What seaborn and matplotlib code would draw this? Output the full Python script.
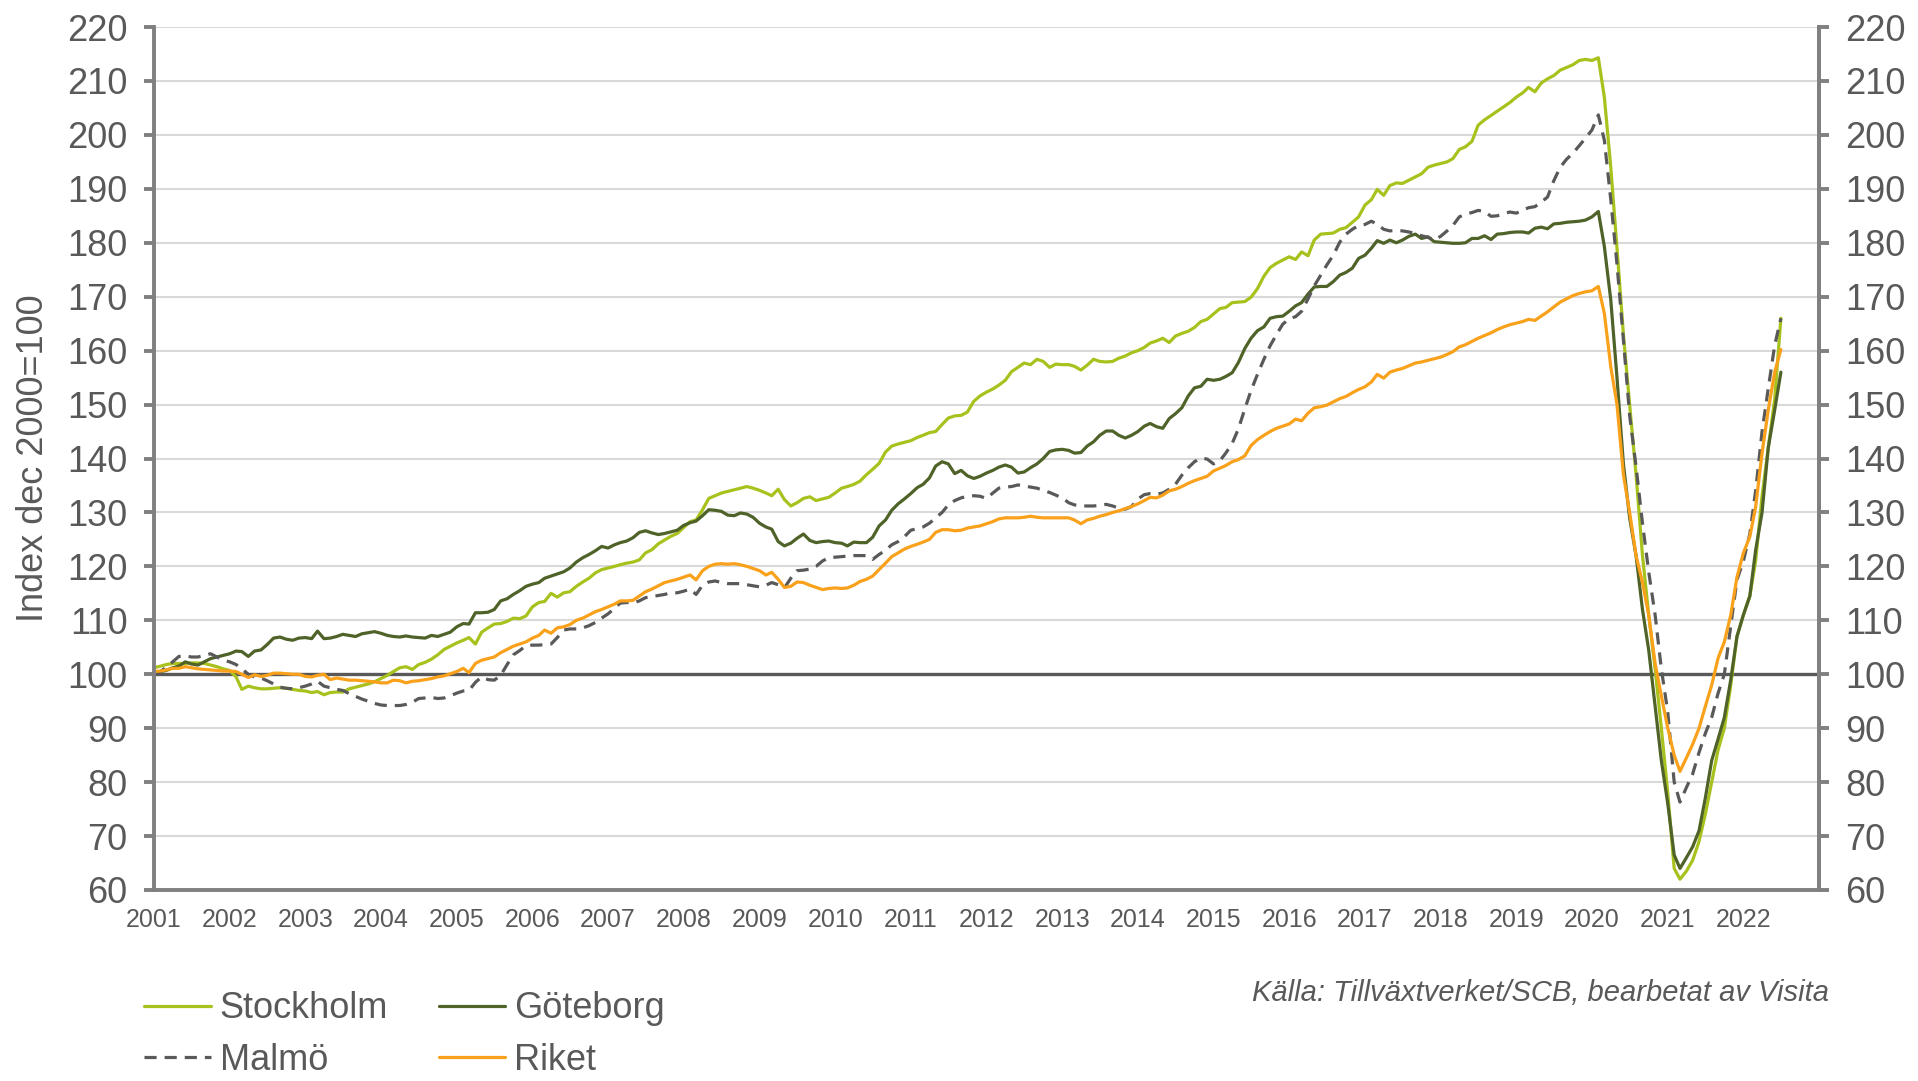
import matplotlib
matplotlib.use("Agg")
import matplotlib.pyplot as plt
import matplotlib.dates as mdates
import pandas as pd
import seaborn as sns

sns.set_style("white")
plt.rcParams['font.family'] = ['Liberation Sans', 'DejaVu Sans']

# monthly values, Jan 2001 - Jul 2022 (index dec 2000 = 100)
months = pd.date_range("2001-01-01", periods=259, freq="MS")

stockholm = [
    101.2, 101.5, 101.8, 102.0, 102.0, 102.0, 102.1, 102.1, 102.0, 101.7, 101.4, 101.0,  # 2001
    100.7, 99.5, 97.2, 97.8, 97.5, 97.3, 97.3, 97.4, 97.5, 97.4, 97.2, 97.0,  # 2002
    96.9, 96.6, 96.8, 96.2, 96.6, 96.7, 96.7, 97.3, 97.6, 97.9, 98.2, 98.6,  # 2003
    99.2, 99.8, 100.5, 101.2, 101.4, 100.9, 101.8, 102.2, 102.8, 103.6, 104.6, 105.2,  # 2004
    105.8, 106.3, 106.8, 105.6, 107.8, 108.6, 109.3, 109.4, 109.8, 110.4, 110.3, 110.8,  # 2005
    112.5, 113.3, 113.5, 115.0, 114.3, 115.1, 115.3, 116.3, 117.1, 117.8, 118.8, 119.4,  # 2006
    119.7, 120.0, 120.3, 120.6, 120.8, 121.2, 122.5, 123.1, 124.2, 124.9, 125.6, 126.1,  # 2007
    127.2, 128.3, 128.6, 130.5, 132.6, 133.1, 133.6, 133.9, 134.2, 134.5, 134.8, 134.5,  # 2008
    134.1, 133.6, 133.1, 134.3, 132.4, 131.2, 131.8, 132.6, 132.9, 132.2, 132.5, 132.8,  # 2009
    133.6, 134.5, 134.8, 135.2, 135.8, 137.0, 138.0, 139.1, 141.2, 142.3, 142.7, 143.0,  # 2010
    143.3, 143.9, 144.3, 144.8, 145.0, 146.3, 147.5, 147.9, 148.0, 148.6, 150.6, 151.6,  # 2011
    152.3, 152.9, 153.6, 154.5, 156.1, 156.9, 157.7, 157.4, 158.4, 158.0, 156.9, 157.5,  # 2012
    157.4, 157.4, 157.1, 156.4, 157.3, 158.4, 158.0, 157.9, 158.0, 158.6, 159.0, 159.6,  # 2013
    160.0, 160.6, 161.4, 161.8, 162.3, 161.5, 162.7, 163.2, 163.6, 164.3, 165.4, 165.8,  # 2014
    166.8, 167.8, 168.0, 168.9, 169.0, 169.1, 169.9, 171.5, 173.8, 175.4, 176.2, 176.8,  # 2015
    177.4, 176.9, 178.3, 177.6, 180.5, 181.6, 181.7, 181.8, 182.5, 182.8, 183.8, 184.8,  # 2016
    187.0, 188.0, 189.9, 188.8, 190.6, 191.1, 191.0, 191.6, 192.2, 192.8, 194.0, 194.4,  # 2017
    194.7, 195.0, 195.6, 197.3, 197.8, 198.8, 201.8, 202.8, 203.6, 204.4, 205.2, 206.0,  # 2018
    207.0, 207.8, 208.8, 208.0, 209.6, 210.4, 211.0, 212.0, 212.5, 213.0, 213.8, 214.0,  # 2019
    213.8, 214.3, 207.0, 194.0, 179.0, 163.0, 150.0, 137.0, 122.0, 111.0, 101.0, 90.0,  # 2020
    78.0, 64.0, 62.0, 63.5, 65.5, 69.0, 74.0, 80.0, 86.0, 90.0, 98.0, 107.0,  # 2021
    111.0, 114.5, 121.0, 133.0, 142.0, 151.0, 166.0,  # 2022
]

goteborg = [
    100.4, 100.5, 100.7, 101.2, 101.5, 102.3, 101.9, 101.7, 102.3, 102.9, 103.2, 103.5,
    103.8, 104.3, 104.2, 103.3, 104.3, 104.5, 105.5, 106.7, 106.9, 106.5, 106.3, 106.7,
    106.8, 106.6, 108.0, 106.6, 106.7, 107.0, 107.4, 107.2, 107.0, 107.5, 107.7, 107.9,
    107.6, 107.2, 107.0, 106.9, 107.1, 106.9, 106.8, 106.7, 107.2, 107.0, 107.4, 107.8,
    108.8, 109.4, 109.3, 111.4, 111.4, 111.5, 112.0, 113.6, 114.0, 114.8, 115.5, 116.3,
    116.7, 117.0, 117.8, 118.2, 118.6, 119.0, 119.7, 120.8, 121.6, 122.2, 122.9, 123.7,
    123.4, 124.0, 124.4, 124.7, 125.3, 126.3, 126.6, 126.2, 125.9, 126.1, 126.4, 126.7,
    127.6, 128.1, 128.4, 129.4, 130.5, 130.4, 130.2, 129.5, 129.4, 129.9, 129.7, 129.1,
    128.0, 127.3, 126.9, 124.6, 123.8, 124.3, 125.2, 126.0, 124.8, 124.4, 124.6, 124.7,
    124.4, 124.3, 123.8, 124.5, 124.4, 124.4, 125.4, 127.5, 128.6, 130.4, 131.6, 132.5,
    133.5, 134.6, 135.2, 136.4, 138.6, 139.4, 139.0, 137.2, 137.8, 136.8, 136.3, 136.7,
    137.3, 137.8, 138.4, 138.8, 138.4, 137.3, 137.5, 138.3, 139.0, 140.0, 141.3, 141.6,
    141.7, 141.5, 141.0, 141.1, 142.3, 143.1, 144.3, 145.1, 145.1, 144.3, 143.8, 144.3,
    145.0, 146.0, 146.5, 145.9, 145.6, 147.4, 148.3, 149.4, 151.6, 153.1, 153.4, 154.7,
    154.5, 154.7, 155.2, 155.9, 157.8, 160.4, 162.3, 163.7, 164.4, 166.0, 166.3, 166.4,
    167.3, 168.3, 168.9, 170.5, 171.8, 171.9, 171.9, 172.8, 174.0, 174.5, 175.3, 177.1,
    177.7, 179.0, 180.4, 179.9, 180.5, 180.0, 180.5, 181.2, 181.6, 180.8, 181.1, 180.2,
    180.1, 180.0, 179.9, 179.9, 180.0, 180.8, 180.8, 181.3, 180.6, 181.6, 181.7, 181.9,
    182.0, 182.0, 181.8, 182.7, 182.9, 182.6, 183.5, 183.6, 183.8, 183.9, 184.0, 184.2,
    184.8, 185.8, 179.3, 169.4, 155.0, 139.0, 129.0, 122.0, 112.0, 104.5, 94.0, 84.0,
    76.0, 66.5, 64.0, 66.0, 68.0, 71.0, 77.0, 84.0, 88.0, 92.0, 99.0, 107.0,
    111.0, 114.5, 123.0, 130.0, 142.0, 149.0, 156.0,
]

malmo = [
    100.2, 100.5, 101.3, 102.3, 103.3, 103.4, 103.2, 103.2, 103.5, 103.8, 103.2, 102.6,
    102.3, 101.8, 101.0, 100.0, 99.5, 99.3, 98.8, 98.2, 97.6, 97.4, 97.3, 97.5,
    97.8, 98.2, 98.7, 97.8, 97.5, 97.2, 97.0, 96.4, 95.9, 95.4, 95.0, 94.6,
    94.3, 94.2, 94.2, 94.2, 94.4, 94.8, 95.5, 95.6, 95.7, 95.5, 95.6, 96.0,
    96.5, 96.9, 97.0, 98.5, 99.5, 99.0, 98.9, 99.8, 101.8, 103.6, 104.4, 105.3,
    105.4, 105.4, 105.5, 105.6, 106.8, 108.2, 108.4, 108.4, 108.6, 109.0, 109.6, 110.4,
    111.2, 112.2, 113.2, 113.3, 113.2, 113.6, 114.2, 114.4, 114.6, 114.8, 115.1, 115.1,
    115.4, 115.8, 114.8, 116.5, 117.1, 117.3, 117.0, 116.8, 116.8, 116.8, 116.6, 116.4,
    116.2, 116.5, 117.0, 116.6, 116.0, 117.8, 119.2, 119.3, 119.5, 120.0, 121.0, 121.6,
    121.7, 121.8, 121.9, 122.0, 122.0, 122.0, 121.3, 122.2, 123.0, 124.0, 124.6, 125.5,
    126.7, 127.0, 127.3, 128.0, 129.0, 130.0, 131.4, 132.2, 132.7, 133.0, 133.1, 133.0,
    132.6, 133.6, 134.5, 134.7, 134.8, 135.1, 134.9, 134.7, 134.5, 134.1, 133.7, 133.2,
    132.7, 131.8, 131.4, 131.2, 131.2, 131.2, 131.3, 131.5, 131.2, 130.8, 130.6, 131.1,
    132.5, 133.3, 133.5, 133.4, 133.6, 134.3, 135.2, 136.9, 138.3, 139.4, 140.1, 139.9,
    139.0, 139.6, 141.0, 142.8, 145.5, 149.2, 152.6, 155.6, 158.4, 160.9, 163.0, 164.9,
    165.9, 166.3, 167.3, 169.6, 172.0, 174.0, 175.9, 177.7, 180.1, 181.6, 182.5, 183.2,
    183.4, 184.0, 183.4, 182.5, 182.2, 182.3, 182.2, 182.0, 181.7, 181.3, 181.0, 180.5,
    181.2, 182.2, 183.2, 184.8, 185.3, 185.6, 186.0, 185.8, 184.9, 185.0, 185.4, 185.7,
    185.5, 186.0, 186.5, 186.7, 187.5, 188.5, 191.5, 194.0, 195.5, 196.6, 198.0, 199.4,
    200.9, 203.7, 199.0, 188.0, 176.0, 162.0, 148.0, 138.5, 128.0, 119.0, 111.0, 101.0,
    93.0, 80.0, 76.3, 79.0, 81.5, 85.5, 89.0, 92.0, 96.5, 100.0, 109.0, 117.5,
    121.0, 126.0, 134.0, 145.0, 153.0, 161.0, 166.0,
]

riket = [
    100.5, 100.6, 100.8, 101.1, 101.1, 101.4, 101.2, 101.0, 100.9, 100.8, 100.7, 100.6,
    100.6, 100.5, 100.0, 99.4, 99.9, 99.6, 99.8, 100.2, 100.2, 100.1, 100.0, 100.0,
    99.6, 99.5, 99.8, 100.0, 99.0, 99.3, 99.1, 98.9, 98.9, 98.8, 98.7, 98.6,
    98.4, 98.4, 98.9, 98.8, 98.4, 98.7, 98.8, 99.0, 99.2, 99.5, 99.7, 100.1,
    100.5, 101.1, 100.3, 102.0, 102.6, 102.9, 103.2, 104.0, 104.6, 105.2, 105.6, 106.0,
    106.7, 107.2, 108.2, 107.6, 108.6, 108.8, 109.2, 110.0, 110.4, 111.0, 111.6, 112.0,
    112.5, 113.0, 113.6, 113.6, 113.7, 114.5, 115.3, 115.8, 116.4, 117.0, 117.3, 117.6,
    118.0, 118.4, 117.5, 119.2, 120.0, 120.4, 120.5, 120.4, 120.5, 120.3, 120.0, 119.6,
    119.2, 118.4, 118.9, 117.6, 116.1, 116.3, 117.1, 117.0, 116.5, 116.1, 115.7, 115.9,
    116.0, 115.9, 116.0, 116.5, 117.2, 117.6, 118.2, 119.4, 120.6, 121.8, 122.5, 123.2,
    123.7, 124.1, 124.5, 125.0, 126.3, 126.8, 126.8, 126.6, 126.7, 127.1, 127.3, 127.5,
    127.9, 128.3, 128.8, 129.0, 129.0, 129.0, 129.1, 129.3, 129.1, 129.0, 129.0, 129.0,
    129.0, 129.0, 128.6, 127.9, 128.6, 128.9, 129.3, 129.6, 130.0, 130.3, 130.7, 131.1,
    131.6, 132.2, 132.8, 132.7, 133.2, 134.0, 134.3, 134.8, 135.4, 135.9, 136.3, 136.7,
    137.7, 138.2, 138.7, 139.4, 139.8, 140.5, 142.4, 143.5, 144.3, 145.0, 145.6, 146.0,
    146.4, 147.3, 147.0, 148.4, 149.4, 149.6, 149.9, 150.5, 151.1, 151.5, 152.2, 152.8,
    153.3, 154.2, 155.6, 154.9, 156.0, 156.4, 156.7, 157.2, 157.7, 157.9, 158.2, 158.5,
    158.8, 159.3, 159.8, 160.7, 161.1, 161.7, 162.3, 162.8, 163.3, 163.9, 164.4, 164.8,
    165.1, 165.4, 165.8, 165.6, 166.4, 167.2, 168.1, 169.0, 169.6, 170.2, 170.6, 170.9,
    171.1, 171.9, 166.9, 157.0, 150.0, 137.0, 130.0, 122.0, 117.0, 111.0, 102.0, 96.0,
    90.0, 85.0, 82.0, 84.5, 87.0, 90.0, 94.0, 98.0, 103.0, 106.0, 111.0, 118.0,
    122.5, 125.5, 131.0, 141.0, 149.0, 156.0, 160.2,
]

series_names = ["Stockholm", "Göteborg", "Malmö", "Riket"]
colors = {"Stockholm": "#a9c11d", "Göteborg": "#4f6228", "Malmö": "#595959", "Riket": "#f9a11b"}
dashes = {"Stockholm": "", "Göteborg": "", "Malmö": (3.8, 2.5), "Riket": ""}

df = pd.DataFrame({"Datum": months, "Stockholm": stockholm, "Göteborg": goteborg,
                   "Malmö": malmo, "Riket": riket})
df = df.melt(id_vars="Datum", var_name="Region", value_name="Index")

grey = "#808080"
txt = "#595959"

fig = plt.figure(figsize=(19.18, 10.81), dpi=100)
ax = fig.add_axes([0.0803, 0.1767, 0.8681, 0.7983])

sns.lineplot(data=df, x="Datum", y="Index", hue="Region", style="Region",
             hue_order=series_names, style_order=series_names,
             palette=colors, dashes=dashes, linewidth=2.3, ax=ax, legend=False)

ax.axhline(100, color="#595959", lw=2.4, zorder=1.5)

ax.set_ylim(60, 220)
ax.set_yticks(range(60, 221, 10))
ax.yaxis.grid(True, color="#d9d9d9", lw=1.5)
ax.xaxis.grid(False)
ax.set_axisbelow(True)

xticks = pd.date_range("2001-01-01", "2023-01-01", freq="YS")
ax.set_xlim(mdates.date2num(xticks[0]), mdates.date2num(xticks[-1]))
ax.set_xticks(mdates.date2num(xticks))
ax.set_xticklabels([str(d.year) for d in xticks[:-1]] + [""])

for side in ["left", "bottom", "right"]:
    ax.spines[side].set_color(grey)
    ax.spines[side].set_linewidth(2.8)
ax.spines["top"].set_visible(False)

ax.tick_params(axis="y", direction="out", length=7, width=2.8, color=grey,
               labelsize=26, labelcolor=txt, pad=12)
ax.tick_params(axis="x", direction="out", length=6, width=2.8, color=grey,
               labelsize=18, labelcolor=txt, pad=7)
ax.set_xlabel("")
ax.set_ylabel("Index dec 2000=100", fontsize=26, color=txt)
ax.yaxis.set_label_coords(-0.062, 0.5)

ax2 = ax.twinx()
ax2.set_ylim(60, 220)
ax2.set_yticks(range(60, 221, 10))
for side in ["left", "bottom", "top"]:
    ax2.spines[side].set_visible(False)
ax2.spines["right"].set_color(grey)
ax2.spines["right"].set_linewidth(2.8)
ax2.tick_params(axis="y", direction="out", length=7, width=2.8, color=grey,
                labelsize=26, labelcolor=txt, pad=12)
ax2.grid(False)

lines = ax.lines[:4]
handles = [lines[0], lines[2], lines[1], lines[3]]
labels = ["Stockholm", "Malmö", "Göteborg", "Riket"]
leg = fig.legend(handles, labels, loc="upper left", bbox_to_anchor=(0.075, 0.083),
                 ncol=2, frameon=False, fontsize=26, handlelength=1.85,
                 handletextpad=0.25, columnspacing=1.4, labelspacing=0.45,
                 borderpad=0, borderaxespad=0)
for t in leg.get_texts():
    t.set_color(txt)

fig.text(1829 / 1918, 1 - 993 / 1081, "Källa: Tillväxtverket/SCB, bearbetat av Visita",
         ha="right", va="center", fontsize=21, style="italic", color=txt)

fig.savefig("out.png", dpi=100)
